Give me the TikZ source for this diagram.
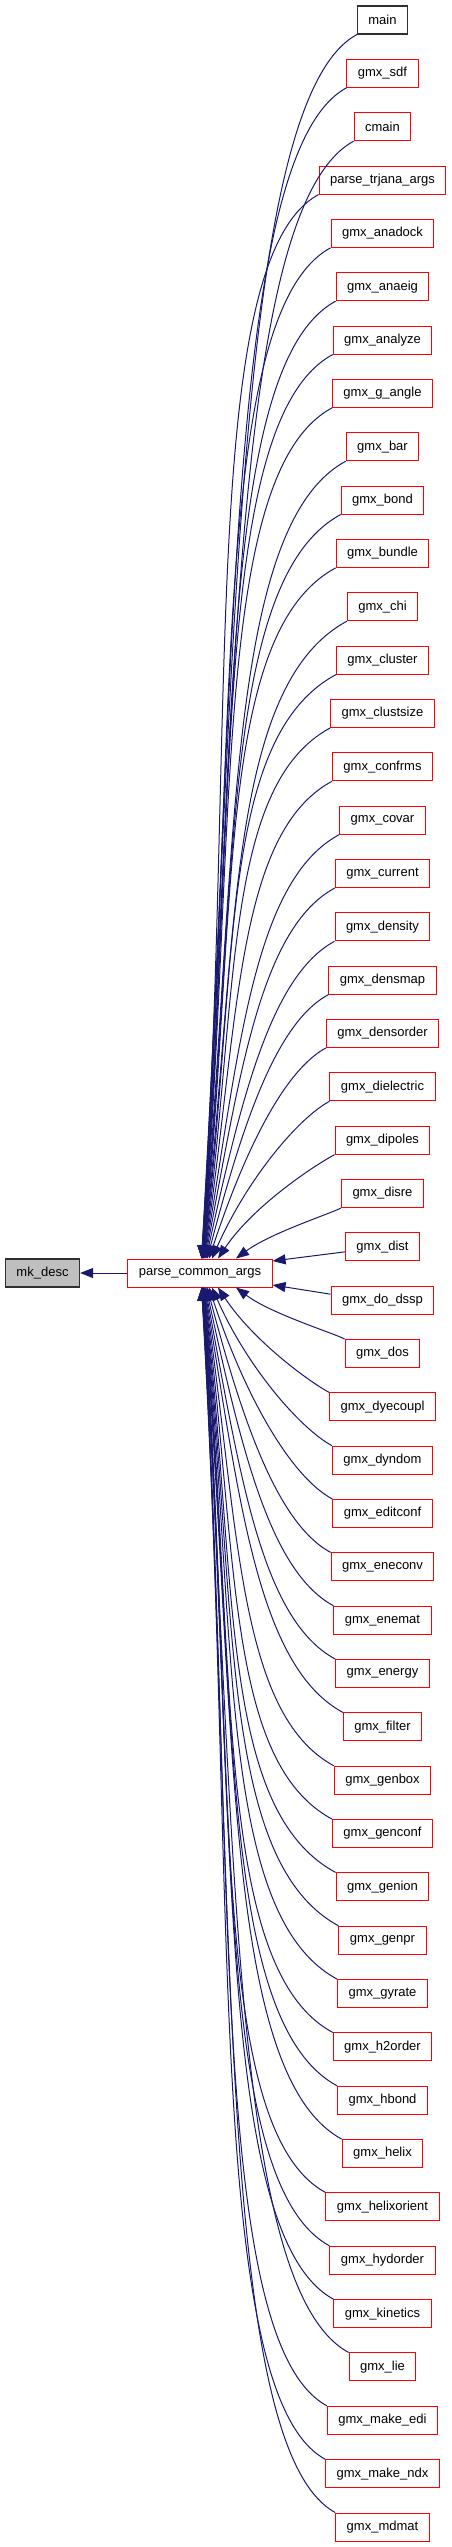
\documentclass[tikz,border=0pt]{standalone}
\usepackage{fontspec}
\setmainfont{Liberation Sans}
\usetikzlibrary{arrows.meta,calc}

\definecolor{edgeblue}{HTML}{191970}
\definecolor{boxred}{HTML}{FF0000}
\definecolor{boxgray}{HTML}{303030}
\definecolor{fillgray}{HTML}{BFBFBF}

\begin{document}
\begin{tikzpicture}[x=1pt, y=-1pt,
    every node/.style={font=\fontsize{13}{15}\selectfont},
    fn/.style={draw=boxred, fill=white, line width=1pt, inner xsep=11pt, minimum height=28pt},
    edge/.style={edgeblue, line width=1pt, {Triangle[length=13pt,width=10pt]}-}]
    \useasboundingbox (0,0) rectangle (451,2547);

    % левый столбец
    \node[fn, draw=boxgray, fill=fillgray, line width=1.2pt] (mk) at (42.5,1273) {mk\_desc};
    \node[fn] (pca) at (200,1273) {parse\_common\_args};
    \draw[edge] (mk.east) -- (pca.west);

    % правый столбец
    \node[fn, draw=boxgray, line width=1.2pt] (n0) at (382.5,20) {main};
    \foreach \lbl [count=\i from 1] in {gmx\_sdf, cmain, parse\_trjana\_args,
        gmx\_anadock, gmx\_anaeig, gmx\_analyze, gmx\_g\_angle, gmx\_bar, gmx\_bond,
        gmx\_bundle, gmx\_chi, gmx\_cluster, gmx\_clustsize, gmx\_confrms, gmx\_covar,
        gmx\_current, gmx\_density, gmx\_densmap, gmx\_densorder, gmx\_dielectric,
        gmx\_dipoles, gmx\_disre, gmx\_dist, gmx\_do\_dssp, gmx\_dos, gmx\_dyecoupl,
        gmx\_dyndom, gmx\_editconf, gmx\_eneconv, gmx\_enemat, gmx\_energy, gmx\_filter,
        gmx\_genbox, gmx\_genconf, gmx\_genion, gmx\_genpr, gmx\_gyrate, gmx\_h2order,
        gmx\_hbond, gmx\_helix, gmx\_helixorient, gmx\_hydorder, gmx\_kinetics,
        gmx\_lie, gmx\_make\_edi, gmx\_make\_ndx, gmx\_mdmat} {
        \pgfmathsetmacro{\yy}{20+53.34*\i}
        \node[fn] (n\i) at (382.5,\yy) {\lbl};
    }

    % дуги сверху
    \foreach \i in {0,...,22} {
        \pgfmathsetmacro{\tx}{36/(23-\i)}
        \pgfmathsetmacro{\d}{1259-(34+53.34*\i)}
        \pgfmathsetmacro{\f}{min(1,\d/600)}
        \draw[edge] ($(pca.north)+(\tx,0)$) .. controls +(35,-0.5*\d) and +(-120*\f,65*\f) .. (n\i.south west);
    }
    % дуги снизу
    \foreach \i in {25,...,47} {
        \pgfmathsetmacro{\tx}{36/(\i-24)}
        \pgfmathsetmacro{\d}{(6+53.34*\i)-1287}
        \pgfmathsetmacro{\f}{min(1,\d/600)}
        \draw[edge] ($(pca.south)+(\tx,0)$) .. controls +(35,0.5*\d) and +(-120*\f,-65*\f) .. (n\i.north west);
    }
    % две прямые в середине
    \draw[edge] ($(pca.east)+(0,-12)$) -- ($(n23.west)+(0,5)$);
    \draw[edge] ($(pca.east)+(0,12)$) -- ($(n24.west)+(0,-6)$);
\end{tikzpicture}
\end{document}
